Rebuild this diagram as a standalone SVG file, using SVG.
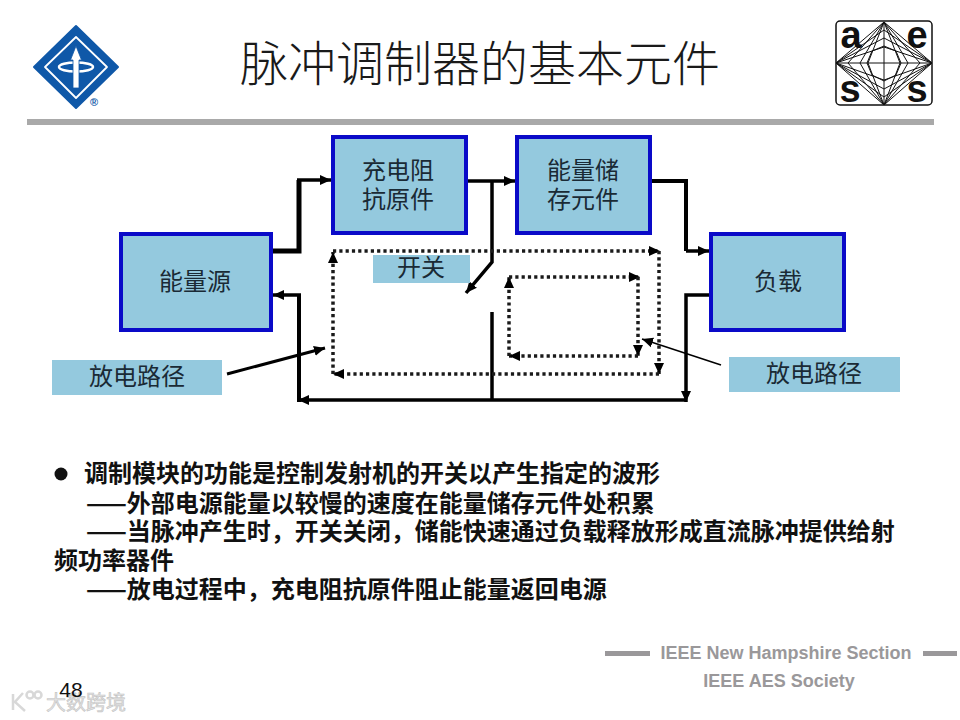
<svg xmlns="http://www.w3.org/2000/svg" width="960" height="720" viewBox="0 0 960 720">
<style>
text{font-family:"Noto Sans CJK SC","Liberation Sans",sans-serif}
.box{fill:#94c9de;stroke:#0a0ac8;stroke-width:4}
.lab{fill:#94c9de}
.t{font-size:24px;fill:#1a2a35;text-anchor:middle}
.w{fill:none;stroke:#000;stroke-width:3.5;stroke-linejoin:miter}
.b{fill:none;stroke:#000;stroke-width:5}
.d{fill:none;stroke:#1a1a1a;stroke-width:3.5;stroke-dasharray:3.2 3.1}
.body{font-size:24px;font-weight:600;fill:#111}
.foot{font-family:"Liberation Sans",sans-serif;font-size:18px;font-weight:700;fill:#9a989a;text-anchor:middle}
.l{font-family:"Liberation Sans",sans-serif;font-size:38px;font-weight:700;text-anchor:middle;fill:#111}
</style>
<defs>
<marker id="a" markerUnits="userSpaceOnUse" markerWidth="14" markerHeight="14" refX="11" refY="6" orient="auto"><path d="M0 1L11 6L0 11Z" fill="#000"/></marker>
</defs>
<rect width="960" height="720" fill="#fff"/>
<g id="logo-ieee">
<path d="M76 26L118 67L76 108L34 67Z" fill="#0f58a8" stroke="#0f58a8" stroke-width="2" stroke-linejoin="round"/>
<path d="M76 37L107 67L76 98L45 67Z" fill="none" stroke="#fff" stroke-width="1.800" stroke-linejoin="round"/>
<ellipse cx="76" cy="67" rx="17" ry="4.500" fill="none" stroke="#fff" stroke-width="2.500"/>
<path d="M76 46L81.500 60H79V88H73V60H70.500Z" fill="#fff" stroke="#0f58a8" stroke-width=".8"/>
<text x="94" y="106" font-size="11" text-anchor="middle" fill="#0f58a8" font-weight="700" style="font-family:'Liberation Sans',sans-serif">®</text>
</g>
<g id="logo-aes">
<rect x="836" y="21" width="96" height="84" rx="4" fill="#fff" stroke="#111" stroke-width="1.500"/>
<path d="M884 22L932 63L884 105L836 63ZM884 22L900 63L884 105L868 63ZM884 22L908 63L884 105L860 63ZM884 22L920 63L884 105L848 63ZM836 63L884 47L932 63L884 80ZM836 63L884 38L932 63L884 89ZM836 63L884 30L932 63L884 97ZM836 63H932M884 22V105M884 46L896 51L901 63L896 75L884 81L872 75L867 63L872 51Z" fill="none" stroke="#111" stroke-width="1"/>
<text class="l" x="851" y="48">a</text>
<text class="l" x="917" y="48">e</text>
<text class="l" x="850" y="102">s</text>
<text class="l" x="917" y="102">s</text>
</g>
<text id="title" x="480" y="81" font-size="48" text-anchor="middle" fill="#1a1a1a" style="font-family:'Noto Sans CJK SC',sans-serif;font-weight:300">脉冲调制器的基本元件</text>
<rect id="rule" x="27" y="119" width="907" height="6" fill="#a9a9a9"/>
<g id="connectors">
<path class="b" d="M272 251H299V180"/>
<path class="w" d="M297 180H331" marker-end="url(#a)"/>
<path class="w" d="M467 181H515" marker-end="url(#a)"/>
<path class="b" d="M652 181H686V251" style="stroke-width:4"/>
<path class="w" d="M686 251H709" marker-end="url(#a)"/>
<path class="w" d="M709 295H686V402" marker-end="url(#a)"/>
<path class="w" d="M686 400H298" marker-end="url(#a)"/>
<path class="b" d="M299 402V295" style="stroke-width:4"/>
<path class="w" d="M301 295H273" marker-end="url(#a)"/>
<path class="w" d="M492 181V262L466 293" marker-end="url(#a)"/>
<path class="w" d="M492 312V400"/>
<path class="d" d="M333 374V252" marker-end="url(#a)"/>
<path class="d" d="M333 251H660" marker-end="url(#a)"/>
<path class="d" d="M659 251V374" marker-end="url(#a)"/>
<path class="d" d="M659 374H333" marker-end="url(#a)"/>
<path class="d" d="M509 356V277" marker-end="url(#a)"/>
<path class="d" d="M509 277H640" marker-end="url(#a)"/>
<path class="d" d="M638 277V356" marker-end="url(#a)"/>
<path class="d" d="M638 356H509" marker-end="url(#a)"/>
<path class="w" d="M227 374L325 348" marker-end="url(#a)" style="stroke-width:3"/>
<path class="w" d="M721 365L642 339" marker-end="url(#a)" style="stroke-width:1.500"/>
</g>
<g id="node-source"><rect class="box" x="121" y="234" width="150" height="96"/><text class="t" x="195" y="290">能量源</text></g>
<g id="node-charge"><rect class="box" x="333" y="137" width="133" height="96"/><text class="t"><tspan x="398" y="179">充电阻</tspan><tspan x="398" y="208">抗原件</tspan></text></g>
<g id="node-storage"><rect class="box" x="517" y="137" width="133" height="96"/><text class="t"><tspan x="583" y="179">能量储</tspan><tspan x="583" y="208">存元件</tspan></text></g>
<g id="node-load"><rect class="box" x="711" y="234" width="133" height="96"/><text class="t" x="778" y="290">负载</text></g>
<g id="label-switch"><rect class="lab" x="373" y="255" width="97" height="28"/><text class="t" x="421" y="276">开关</text></g>
<g id="label-left"><rect class="lab" x="52" y="360" width="170" height="35"/><text class="t" x="137" y="385">放电路径</text></g>
<g id="label-right"><rect class="lab" x="729" y="357" width="171" height="35"/><text class="t" x="814" y="382">放电路径</text></g>
<g id="bullets">
<circle cx="61" cy="474" r="6.500" fill="#111"/>
<text class="body"><tspan x="84" y="482">调制模块的功能是控制发射机的开关以产生指定的波形</tspan><tspan x="86" y="512">——外部电源能量以较慢的速度在能量储存元件处积累</tspan><tspan x="86" y="540">——当脉冲产生时，开关关闭，储能快速通过负载释放形成直流脉冲提供给射</tspan><tspan x="54" y="569">频功率器件</tspan><tspan x="86" y="598">——放电过程中，充电阻抗原件阻止能量返回电源</tspan></text>
</g>
<g id="footer">
<rect x="605" y="651" width="45" height="5" fill="#9a989a"/>
<rect x="923" y="651" width="34" height="5" fill="#9a989a"/>
<text class="foot" x="786" y="659">IEEE New Hampshire Section</text>
<text class="foot" x="779" y="687">IEEE AES Society</text>
</g>
<text id="watermark" x="86" y="710" font-size="20" text-anchor="middle" fill="#e2e2e2" stroke="#c4c4c4" stroke-width=".6">大数跨境</text>
<g id="watermark-logo" fill="none" stroke="#d8d8d8" stroke-width="2.500"><path d="M13 694V710M23 693L15 702L25 711"/><circle cx="30" cy="695" r="3.500"/><circle cx="38" cy="695" r="3.500"/></g>
<text id="page" x="71" y="697" font-size="21" text-anchor="middle" fill="#111" style="font-family:'Liberation Sans',sans-serif">48</text>
</svg>
